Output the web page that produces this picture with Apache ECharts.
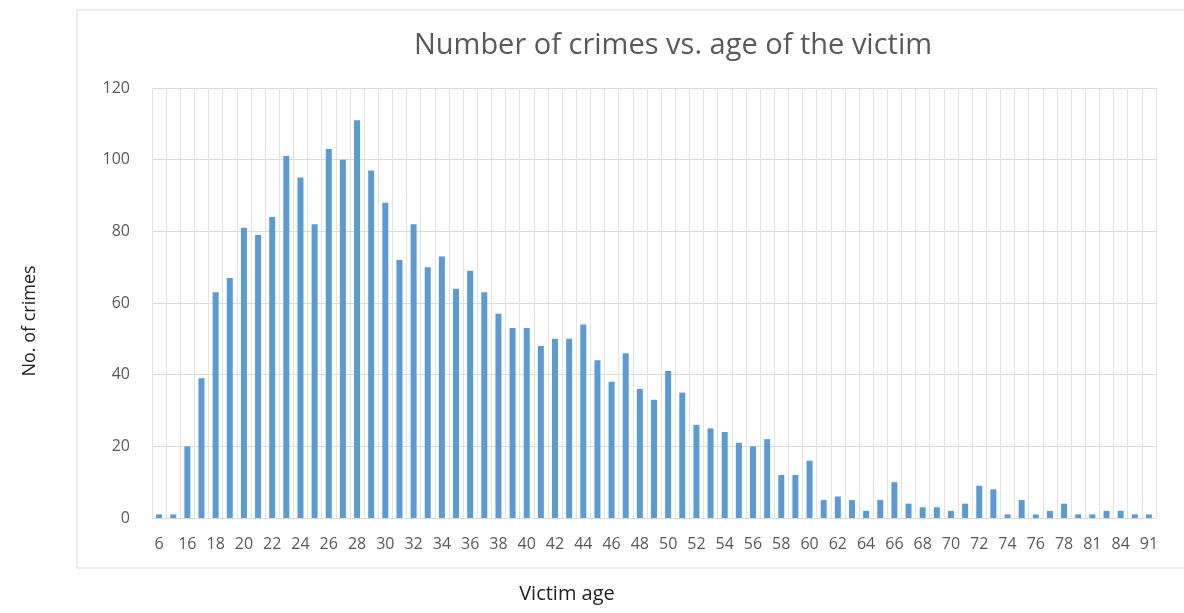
<!DOCTYPE html>
<html>
<head>
<meta charset="utf-8">
<title>Number of crimes vs. age of the victim</title>
<script src="https://cdn.jsdelivr.net/npm/echarts@6/dist/echarts.min.js"></script>
<style>
    html, body { margin: 0; padding: 0; background: #fff; }
    #chart { width: 1184px; height: 613px; }
</style>
</head>
<body>
<div id="chart"></div>
<script>
    // victim ages (categories), some in-between ages have no printed label
    var ages = ['6', '15', '16', '17', '18', '19', '20', '21', '22', '23', '24', '25', '26', '27', '28', '29',
        '30', '31', '32', '33', '34', '35', '36', '37', '38', '39', '40', '41', '42', '43', '44', '45',
        '46', '47', '48', '49', '50', '51', '52', '53', '54', '55', '56', '57', '58', '59', '60', '61',
        '62', '63', '64', '65', '66', '67', '68', '69', '70', '71', '72', '73', '74', '75', '76', '77',
        '78', '80', '81', '83', '84', '88', '91'];

    // number of crimes per age
    var crimes = [1, 1, 20, 39, 63, 67, 81, 79, 84, 101, 95, 82, 103, 100, 111, 97,
        88, 72, 82, 70, 73, 64, 69, 63, 57, 53, 53, 48, 50, 50, 54, 44,
        38, 46, 36, 33, 41, 35, 26, 25, 24, 21, 20, 22, 12, 12, 16, 5,
        6, 5, 2, 5, 10, 4, 3, 3, 2, 4, 9, 8, 1, 5, 1, 2,
        4, 1, 1, 2, 2, 1, 1];

    var yTicks = {min: 0, max: 120, step: 20};

    var chart = echarts.init(document.getElementById('chart'));

    var option = {
        backgroundColor: '#fff',
        animation: false,
        title: {
            text: 'Number of crimes vs. age of the victim',
            left: 668,
            top: 26,
            textAlign: 'center',
            textStyle: {
                fontFamily: 'Open Sans',
                fontSize: 29,
                fontWeight: 'normal',
                color: '#595959'
            }
        },
        graphic: [{
            type: 'rect',
            shape: {x: 77, y: 10, width: 1200, height: 558},
            style: {fill: null, stroke: '#d9d9d9', lineWidth: 1},
            silent: true,
            z: -1
        }],
        grid: {left: 152, right: 28, top: 88, bottom: 95},
        xAxis: {
            type: 'category',
            data: ages,
            name: 'Victim age',
            nameLocation: 'middle',
            nameGap: 66,
            nameTextStyle: {
                fontFamily: 'Open Sans', fontSize: 20, color: '#1f1f1f',
                padding: [0, 174, 0, 0]
            },
            axisLine: {lineStyle: {color: '#d9d9d9'}},
            axisTick: {show: false},
            axisLabel: {
                interval: 1,
                margin: 18,
                fontFamily: 'Open Sans',
                fontSize: 16,
                color: '#595959'
            },
            splitLine: {show: true, interval: 0, lineStyle: {color: '#e3e3e3'}}
        },
        yAxis: {
            type: 'value',
            min: yTicks.min,
            max: yTicks.max,
            interval: yTicks.step,
            name: 'No. of crimes',
            nameLocation: 'middle',
            nameGap: 113,
            nameRotate: 90,
            nameTextStyle: {
                fontFamily: 'Open Sans', fontSize: 18, color: '#1f1f1f',
                padding: [0, 36, 0, 0]
            },
            axisLine: {show: false},
            axisTick: {show: false},
            axisLabel: {
                margin: 22,
                fontFamily: 'Open Sans',
                fontSize: 16,
                color: '#595959'
            },
            splitLine: {lineStyle: {color: '#d9d9d9'}}
        },
        series: [{
            type: 'bar',
            data: crimes,
            barWidth: 6,
            itemStyle: {color: '#5b9bd5'}
        }]
    };

    chart.setOption(option);

    window.onresize = function () {
        chart.resize();
    };
</script>
</body>
</html>
